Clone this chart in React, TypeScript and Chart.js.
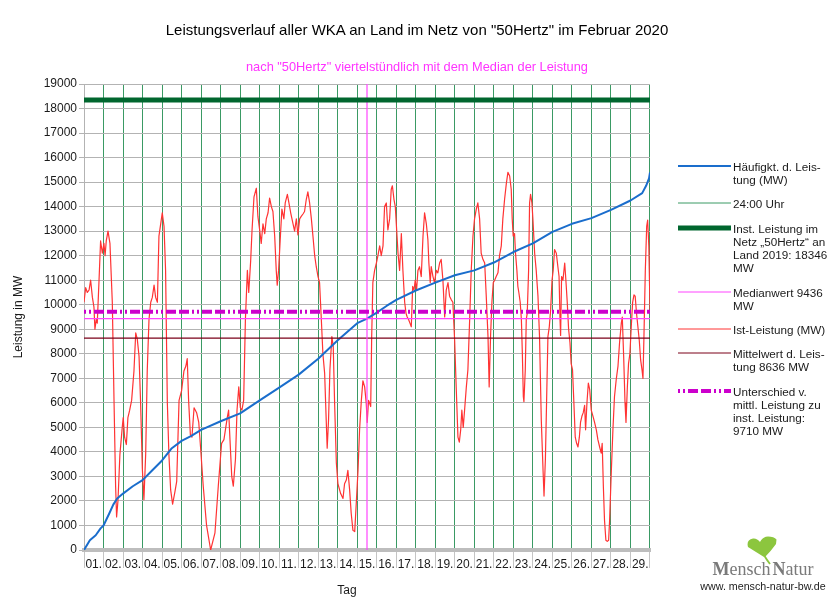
import React, { useEffect, useRef } from 'react';
import { Chart, registerables } from 'chart.js';

Chart.register(...registerables);

const FONT = '"Liberation Sans", Arial, sans-serif';

// ---- categories (days of February 2020) ----
const dayLabels = [
  '01.', '02.', '03.', '04.', '05.', '06.', '07.', '08.', '09.', '10.',
  '11.', '12.', '13.', '14.', '15.', '16.', '17.', '18.', '19.', '20.',
  '21.', '22.', '23.', '24.', '25.', '26.', '27.', '28.', '29.',
];

// ---- Ist-Leistung (MW): time in days since 01.02. 00:00, value in MW ----
const istDay = [
  0.00, 0.085, 0.17, 0.26, 0.34, 0.43, 0.51, 0.56, 0.63, 0.68, 0.77, 0.85, 0.94, 1.02, 1.08, 1.14, 1.23, 1.33, 1.45, 1.54,
  1.62, 1.67, 1.74, 1.84, 1.96, 2.01, 2.08, 2.17, 2.25, 2.34, 2.44, 2.56, 2.65, 2.73, 2.82, 2.90, 2.99, 3.07, 3.16, 3.24,
  3.33, 3.42, 3.50, 3.59, 3.67, 3.76, 3.84, 3.93, 4.01, 4.10, 4.18, 4.27, 4.35, 4.44, 4.54, 4.66, 4.75, 4.87, 5.00, 5.12,
  5.22, 5.29, 5.36, 5.45, 5.53, 5.64, 5.77, 5.88, 5.98, 6.11, 6.28, 6.49, 6.71, 6.88, 7.05, 7.17, 7.34, 7.41, 7.48, 7.57,
  7.65, 7.76, 7.84, 7.93, 8.01, 8.09, 8.18, 8.27, 8.37, 8.44, 8.54, 8.61, 8.71, 8.83, 8.91, 9.00, 9.08, 9.17, 9.26, 9.34,
  9.43, 9.51, 9.60, 9.68, 9.77, 9.85, 9.90, 9.97, 10.08, 10.14, 10.24, 10.31, 10.42, 10.50, 10.59, 10.71, 10.79, 10.88, 10.96, 11.05,
  11.13, 11.22, 11.30, 11.39, 11.47, 11.56, 11.65, 11.73, 11.82, 11.90, 11.99, 12.07, 12.16, 12.24, 12.33, 12.41, 12.46, 12.53, 12.60, 12.70,
  12.77, 12.84, 12.93, 13.01, 13.15, 13.27, 13.35, 13.44, 13.52, 13.61, 13.69, 13.78, 13.87, 13.95, 14.04, 14.12, 14.21, 14.29, 14.38, 14.46,
  14.51, 14.58, 14.63, 14.69, 14.74, 14.80, 14.89, 14.98, 15.06, 15.15, 15.23, 15.32, 15.40, 15.49, 15.57, 15.66, 15.74, 15.80, 15.88, 15.95,
  16.02, 16.09, 16.17, 16.26, 16.34, 16.43, 16.50, 16.56, 16.63, 16.70, 16.77, 16.84, 16.91, 16.97, 17.04, 17.11, 17.19, 17.28, 17.37, 17.45,
  17.54, 17.62, 17.67, 17.74, 17.79, 17.88, 17.96, 18.05, 18.13, 18.22, 18.30, 18.39, 18.48, 18.56, 18.65, 18.73, 18.82, 18.90, 18.99, 19.07,
  19.16, 19.23, 19.30, 19.36, 19.43, 19.50, 19.59, 19.67, 19.76, 19.84, 19.93, 20.01, 20.10, 20.18, 20.27, 20.35, 20.44, 20.53, 20.61, 20.70,
  20.76, 20.83, 20.90, 20.97, 21.04, 21.12, 21.21, 21.29, 21.38, 21.46, 21.55, 21.64, 21.72, 21.81, 21.89, 21.94, 21.99, 22.06, 22.11, 22.18,
  22.23, 22.28, 22.35, 22.41, 22.46, 22.51, 22.54, 22.61, 22.66, 22.71, 22.78, 22.83, 22.88, 22.95, 23.00, 23.09, 23.17, 23.26, 23.34, 23.43,
  23.52, 23.57, 23.64, 23.70, 23.77, 23.84, 23.91, 23.98, 24.04, 24.11, 24.20, 24.28, 24.34, 24.39, 24.42, 24.47, 24.54, 24.63, 24.69, 24.76,
  24.83, 24.90, 24.96, 25.03, 25.10, 25.17, 25.24, 25.31, 25.38, 25.44, 25.51, 25.58, 25.65, 25.70, 25.77, 25.84, 25.91, 25.99, 26.08, 26.16,
  26.25, 26.33, 26.42, 26.50, 26.55, 26.61, 26.67, 26.74, 26.81, 26.88, 26.93, 27.02, 27.10, 27.18, 27.27, 27.36, 27.44, 27.53, 27.58, 27.65,
  27.72, 27.77, 27.84, 27.90, 27.97, 28.04, 28.11, 28.18, 28.24, 28.31, 28.38, 28.45, 28.52, 28.59, 28.64, 28.69, 28.76, 28.83, 28.88, 28.94,
  29.00,
];
const istMW = [
  10100, 10700, 10500, 10600, 11000, 10300, 9900, 9000, 9400, 9250, 11000, 12600, 12100, 12500, 12000, 12600, 13000, 12500, 10100, 6000,
  2600, 1350, 2000, 3900, 5000, 5400, 4600, 4300, 5400, 5700, 6100, 7300, 8850, 8600, 7900, 6000, 3300, 2050, 3900, 7300,
  9400, 10100, 10300, 10800, 10300, 10100, 12800, 13300, 13750, 13200, 11400, 6000, 3900, 2450, 1870, 2380, 2800, 6100, 6500, 7300,
  7500, 7800, 6100, 4700, 4600, 5800, 5600, 5200, 4100, 2600, 1000, 0, 700, 2600, 4350, 4500, 5400, 5700, 4500, 3000,
  2600, 3700, 5700, 6650, 5800, 5700, 6100, 9400, 11400, 10500, 11800, 13050, 14400, 14750, 13600, 13050, 12500, 13300, 12900, 13500,
  13750, 14350, 14000, 13800, 12800, 11400, 10800, 11400, 13050, 13900, 13500, 14150, 14500, 14150, 13750, 13300, 13000, 13500, 12850, 13500,
  13600, 13700, 13800, 14300, 14600, 14150, 13500, 12800, 12000, 11550, 11150, 10900, 9400, 8000, 7200, 5300, 4150, 5300, 7350, 8700,
  8300, 6000, 3550, 2700, 2300, 2100, 2700, 2850, 3250, 2450, 1500, 800, 750, 1900, 3250, 4900, 6100, 6900, 6650, 6000,
  5200, 6100, 6000, 5850, 8700, 10900, 11400, 11700, 12000, 12400, 12000, 12400, 14000, 14150, 13050, 13500, 14700, 14850, 14300, 14000,
  13050, 12100, 11400, 12900, 11400, 10100, 9650, 9500, 9400, 9250, 9100, 10750, 10600, 11000, 10600, 11400, 11550, 11150, 12800, 13750,
  13300, 12650, 11700, 10900, 11550, 11150, 10900, 11400, 11300, 11700, 11850, 11000, 9500, 10600, 10900, 10350, 10200, 10100, 8550, 6650,
  4600, 4400, 4900, 5700, 5000, 5700, 6650, 7350, 9400, 11400, 12800, 13500, 13900, 14150, 13500, 12100, 11850, 11700, 10350, 8700,
  6650, 8700, 10100, 10900, 11000, 11150, 11300, 12000, 12400, 13500, 14300, 14950, 15400, 15250, 14700, 13500, 12800, 12900, 12100, 11400,
  10750, 10500, 10100, 9400, 8000, 6250, 6050, 7350, 9400, 9650, 11400, 14150, 14500, 14150, 13500, 12100, 11400, 10350, 8700, 5300,
  3250, 2200, 3700, 6000, 8700, 9100, 9800, 11000, 11400, 12250, 12100, 11550, 11150, 9400, 8750, 11150, 11000, 11700, 11000, 10100,
  9000, 8450, 7600, 7350, 6000, 4600, 4350, 4200, 4600, 5200, 5450, 5600, 5900, 4900, 6000, 6800, 6550, 5700, 5450, 5200,
  4900, 4500, 4200, 3950, 4350, 2600, 1200, 400, 350, 400, 1200, 3250, 4900, 6250, 6950, 7500, 8450, 9250, 9500, 7900,
  6000, 5200, 6650, 7600, 8000, 9100, 10100, 10400, 10350, 9650, 9100, 8550, 7750, 7350, 7000, 8700, 11400, 13200, 13450, 12400,
  9800,
];

// ---- Häufigkeit d. Leistung (sorted duration curve) ----
const sortedDay = [
  0, 0.3, 0.6, 0.85, 1, 1.3, 1.5, 1.7, 2, 2.5, 3, 3.5, 4, 4.5, 5, 5.5, 6, 7, 8, 9, 10, 11, 12, 13, 14,
  14.5, 15, 15.5, 16, 17, 18, 19, 20, 21, 22, 23, 24, 25, 26, 27, 28, 28.6, 28.8, 28.95, 29,
];
const sortedMW = [
  0, 400, 600, 880, 1000, 1500, 1850, 2100, 2300, 2600, 2850, 3250, 3650, 4150, 4450, 4650, 4900, 5250, 5570, 6100, 6620, 7150, 7800, 8550, 9250,
  9436, 9680, 9950, 10200, 10580, 10900, 11200, 11400, 11720, 12150, 12500, 12970, 13300, 13530, 13870, 14250, 14550, 14850, 15150, 15400,
];

// ---- reference values ----
const installedMW = 18346;
const medianMW = 9436;
const meanMW = 8636;
const gapMW = 9710;
const medianDay = 14.5;
const monthDays = 29;
const yMax = 19000;
const yStep = 1000;

const C_BLUE = '#1a6dcc';
const C_GRID_GREEN = '#3a9a64';
const C_INST = '#00662e';
const C_MEDIAN = '#ff44ff';
const C_RED = '#ff3333';
const C_MEAN = '#7a0018';
const C_GAP = '#cc00cc';
const GAP_DASH = [2, 3, 2, 3, 10, 3, 10, 3];

const legendItems = [
  { lines: ['Häufigkt. d. Leis-', 'tung (MW)'], y: 166, color: C_BLUE, w: 2 },
  { lines: ['24:00 Uhr'], y: 203, color: C_GRID_GREEN, w: 1 },
  { lines: ['Inst. Leistung im', 'Netz „50Hertz“ an', `Land 2019: ${installedMW}`, 'MW'], y: 228, color: C_INST, w: 5 },
  { lines: [`Medianwert ${medianMW}`, 'MW'], y: 292, color: C_MEDIAN, w: 1 },
  { lines: ['Ist-Leistung (MW)'], y: 329, color: C_RED, w: 1 },
  { lines: ['Mittelwert d. Leis-', `tung ${meanMW} MW`], y: 353, color: C_MEAN, w: 1 },
  { lines: ['Unterschied v.', 'mittl. Leistung zu', 'inst. Leistung:', `${gapMW} MW`], y: 391, color: C_GAP, w: 4, dash: true },
];

const pts = (xs: number[], ys: number[]) => xs.map((x, i) => ({ x, y: ys[i] }));
const hline = (v: number) => [{ x: 0, y: v }, { x: monthDays, y: v }];

export default function App() {
  const ref = useRef<HTMLCanvasElement | null>(null);

  useEffect(() => {
    if (!ref.current) return;
    const common = { pointRadius: 0, fill: false, tension: 0, xAxisID: 'x', yAxisID: 'y', borderJoinStyle: 'round' as const };
    const chart = new Chart(ref.current, {
      type: 'line',
      data: {
        datasets: [
          { ...common, label: 'Unterschied', data: hline(gapMW), borderColor: C_GAP, borderWidth: 4, borderDash: GAP_DASH, order: 1 },
          { ...common, label: 'Inst. Leistung', data: hline(installedMW), borderColor: C_INST, borderWidth: 5, order: 2 },
          { ...common, label: 'Medianwert', data: hline(medianMW), borderColor: C_MEDIAN, borderWidth: 1.2, order: 3 },
          { ...common, label: 'Median-Tag', data: [{ x: medianDay, y: 0 }, { x: medianDay, y: yMax }], borderColor: C_MEDIAN, borderWidth: 1.2, order: 3 },
          { ...common, label: 'Mittelwert', data: hline(meanMW), borderColor: C_MEAN, borderWidth: 1.2, order: 4 },
          { ...common, label: 'Häufigkt.', data: pts(sortedDay, sortedMW), borderColor: C_BLUE, borderWidth: 2, order: 5 },
          { ...common, label: 'Ist-Leistung', data: pts(istDay, istMW), borderColor: C_RED, borderWidth: 1.2, order: 6 },
        ],
      },
      options: {
        responsive: false,
        animation: false,
        events: [],
        layout: { padding: { left: 8, top: 84, right: 184, bottom: 0 } },
        plugins: { legend: { display: false }, tooltip: { enabled: false }, title: { display: false } },
        scales: {
          x: { type: 'linear', min: 0, max: monthDays, display: false },
          days: {
            type: 'category',
            labels: dayLabels,
            position: 'bottom',
            offset: true,
            grid: { offset: true, color: C_GRID_GREEN, lineWidth: 1, tickColor: '#c4c4c4', tickLength: 18, tickWidth: 1 },
            border: { display: true, color: '#bdbdbd', width: 4 },
            ticks: { autoSkip: false, maxRotation: 0, minRotation: 0, padding: -11, color: '#1a1a1a', font: { family: FONT, size: 12 } },
            afterFit: (s: any) => { s.height = 50; },
          },
          y: {
            type: 'linear',
            min: 0,
            max: yMax,
            position: 'left',
            ticks: { stepSize: yStep, padding: 2, color: '#1a1a1a', font: { family: FONT, size: 12 }, callback: (v: any) => String(v) },
            grid: { color: '#b3b3b3', tickLength: 5, z: -1 },
            border: { color: '#b3b3b3' },
            title: { display: true, text: 'Leistung in MW', color: '#1a1a1a', font: { family: FONT, size: 12 }, padding: { top: 3, bottom: 0 } },
            afterFit: (s: any) => { s.width = 76; },
          },
        } as any,
      },
    });
    return () => chart.destroy();
  }, []);

  return (
    <div style={{ position: 'fixed', left: 0, top: 0, width: 834, height: 600, background: '#fff', fontFamily: FONT, overflow: 'hidden' }}>
      <canvas ref={ref} width={834} height={600} style={{ position: 'absolute', left: 0, top: 0 }} />
      <div style={{ position: 'absolute', left: 0, top: 21, width: 834, textAlign: 'center', fontSize: 15, lineHeight: '18px', color: '#000' }}>
        Leistungsverlauf aller WKA an Land im Netz von "50Hertz" im Februar 2020
      </div>
      <div style={{ position: 'absolute', left: 0, top: 59, width: 834, textAlign: 'center', fontSize: 12.8, lineHeight: '16px', color: '#ff33ff' }}>
        nach "50Hertz" viertelstündlich mit dem Median der Leistung
      </div>
      <div style={{ position: 'absolute', left: 317, top: 582, width: 60, textAlign: 'center', fontSize: 12, lineHeight: '16px', color: '#1a1a1a' }}>
        Tag
      </div>
      <svg width={834} height={600} style={{ position: 'absolute', left: 0, top: 0, pointerEvents: 'none' }}>
        {legendItems.map((it, i) => (
          <line key={i} x1={678} x2={731} y1={it.y} y2={it.y} stroke={it.color} strokeWidth={it.w}
            strokeDasharray={it.dash ? GAP_DASH.join(' ') : undefined} />
        ))}
        <g transform="translate(746,536)">
          <path d="M18,21 L2,11 Q0,4 7,2.5 Q11,2 14,6 Q17,0.5 22,0.5 Q28,0.5 30.5,3.5 L30,8 Q25,15 19,21 Z" fill="#8cc63e" />
          <path d="M18.5,20 Q21,24 24,28" stroke="#8cc63e" strokeWidth={1.8} fill="none" />
        </g>
      </svg>
      {legendItems.map((it, i) => (
        <div key={i} style={{ position: 'absolute', left: 733, top: it.y - 6.5, fontSize: 11.7, lineHeight: '13px', color: '#1a1a1a', whiteSpace: 'nowrap' }}>
          {it.lines.map((l, j) => <div key={j}>{l}</div>)}
        </div>
      ))}
      <div style={{ position: 'absolute', left: 700, top: 559, width: 126, textAlign: 'center', fontFamily: '"Liberation Serif", "Times New Roman", serif', fontSize: 18, lineHeight: '20px', color: '#7a7a7a' }}>
        <b>M</b>ensch<span style={{ marginLeft: 2 }}><b>N</b>atur</span>
      </div>
      <div style={{ position: 'absolute', left: 690, top: 579, width: 146, textAlign: 'center', fontSize: 10.7, lineHeight: '14px', color: '#222' }}>
        www. mensch-natur-bw.de
      </div>
    </div>
  );
}
